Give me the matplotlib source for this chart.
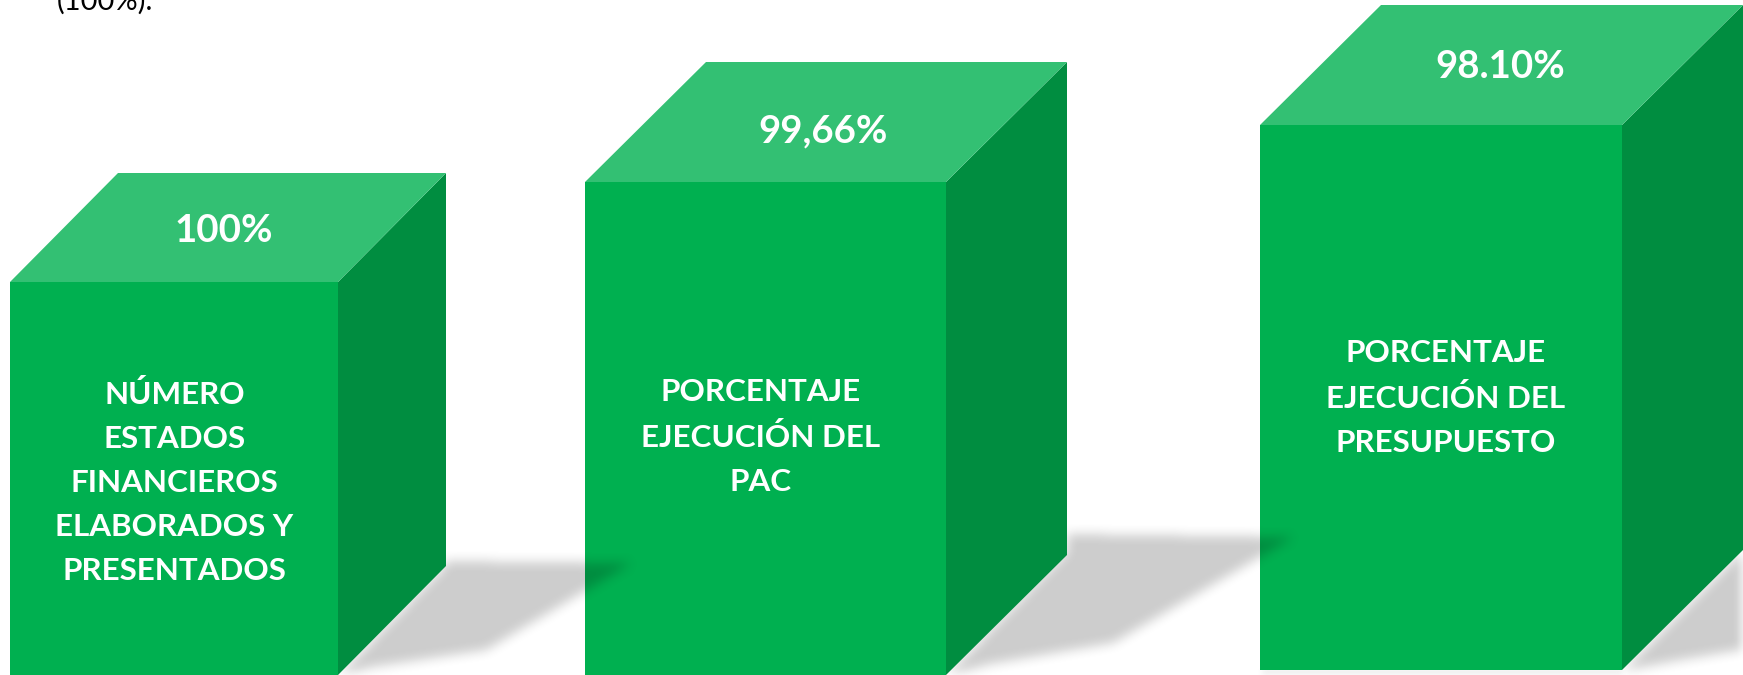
import numpy as np
import matplotlib
matplotlib.use("Agg")
import matplotlib.pyplot as plt
from matplotlib.path import Path
from matplotlib.patches import Polygon

plt.rcParams['font.family'] = ['Lato', 'DejaVu Sans']

# ---- data ----
categories = [
    "NÚMERO\nESTADOS\nFINANCIEROS\nELABORADOS Y\nPRESENTADOS",
    "PORCENTAJE\nEJECUCIÓN DEL\nPAC",
    "PORCENTAJE\nEJECUCIÓN DEL\nPRESUPUESTO",
]
value_labels = ["100%", "99,66%", "98.10%"]
block_heights = [393, 493, 545]      # drawn height of each block's front face
clipped_note = "(100%)."

W, H = 1743, 675
C_FRONT, C_TOP, C_SIDE = "#00B050", "#33C073", "#008D40"

# ---- layout (pixel space of the figure) ----
lefts = [10, 585, 1260]
widths = [328, 361, 362]
baselines = [675, 675, 670]
depth_x = [108, 121, 121]
depth_y = [109, 120, 120]
value_pos = [(223.5, 231.5), (823.5, 131.5), (1500, 67)]
label_pos = [(174.5, 482.5), (761, 437), (1446, 398)]
shadows = [
    [(338, 676), (445, 566), (445, 561), (632, 563), (486, 650), (372, 667)],
    [(946, 676), (1067, 552), (1067, 534), (1294, 537), (1113, 643), (990, 664)],
    [(1622, 671), (1742, 552), (1800, 540), (1800, 640), (1680, 660)],
]
under_glow = [(1262, 671), (1622, 671), (1622, 676), (1262, 676)]

fig = plt.figure(figsize=(W / 100, H / 100), dpi=100, facecolor="white")
ax = fig.add_axes([0, 0, 1, 1])
ax.set_xlim(0, W)
ax.set_ylim(H, 0)
ax.axis("off")


def blurred_shadow(poly, zorder, blur=6, alpha=0.2):
    """Soft parallelogram shadow: rasterised polygon smoothed with a box filter."""
    yy, xx = np.mgrid[0:H, 0:W]
    pts = np.column_stack([xx.ravel() + 0.5, yy.ravel() + 0.5])
    mask = Path(poly).contains_points(pts).reshape(H, W).astype(float)
    kernel = np.ones(2 * blur + 1) / (2 * blur + 1)
    for _ in range(2):
        mask = np.apply_along_axis(lambda r: np.convolve(r, kernel, mode="same"), 0, mask)
        mask = np.apply_along_axis(lambda r: np.convolve(r, kernel, mode="same"), 1, mask)
    rgba = np.zeros((H, W, 4))
    rgba[..., 3] = mask * alpha
    ax.imshow(rgba, extent=(0, W, H, 0), zorder=zorder, interpolation="nearest", aspect="auto")


blurred_shadow(under_glow, 0.5, blur=3, alpha=0.12)
z = 1
for i in reversed(range(len(categories))):
    blurred_shadow(shadows[i], z)
    z += 1
    x0, x1 = lefts[i], lefts[i] + widths[i]
    yb = baselines[i]
    yt = yb - block_heights[i]
    dx, dy = depth_x[i], depth_y[i]
    ax.add_patch(Polygon([(x0, yb), (x1, yb), (x1, yt), (x0, yt)],
                         closed=True, fc=C_FRONT, ec="none", zorder=z))
    ax.add_patch(Polygon([(x1, yb), (x1 + dx, yb - dy), (x1 + dx, yt - dy), (x1, yt)],
                         closed=True, fc=C_SIDE, ec="none", zorder=z))
    ax.add_patch(Polygon([(x0, yt), (x1, yt), (x1 + dx, yt - dy), (x0 + dx, yt - dy)],
                         closed=True, fc=C_TOP, ec="none", zorder=z))
    ax.text(*value_pos[i], value_labels[i], color="white", fontsize=27.6, fontweight="bold",
            ha="center", va="center", zorder=z + 0.5)
    ax.text(*label_pos[i], categories[i], color="white", fontsize=22.6, fontweight="bold",
            ha="center", va="center", linespacing=1.7, multialignment="center", zorder=z + 0.5)
    z += 1

ax.set_xlim(0, W)
ax.set_ylim(H, 0)
ax.text(57, 10, clipped_note, color="black", fontsize=21, ha="left", va="baseline", zorder=50)

fig.savefig("out.png", dpi=100, facecolor="white")
